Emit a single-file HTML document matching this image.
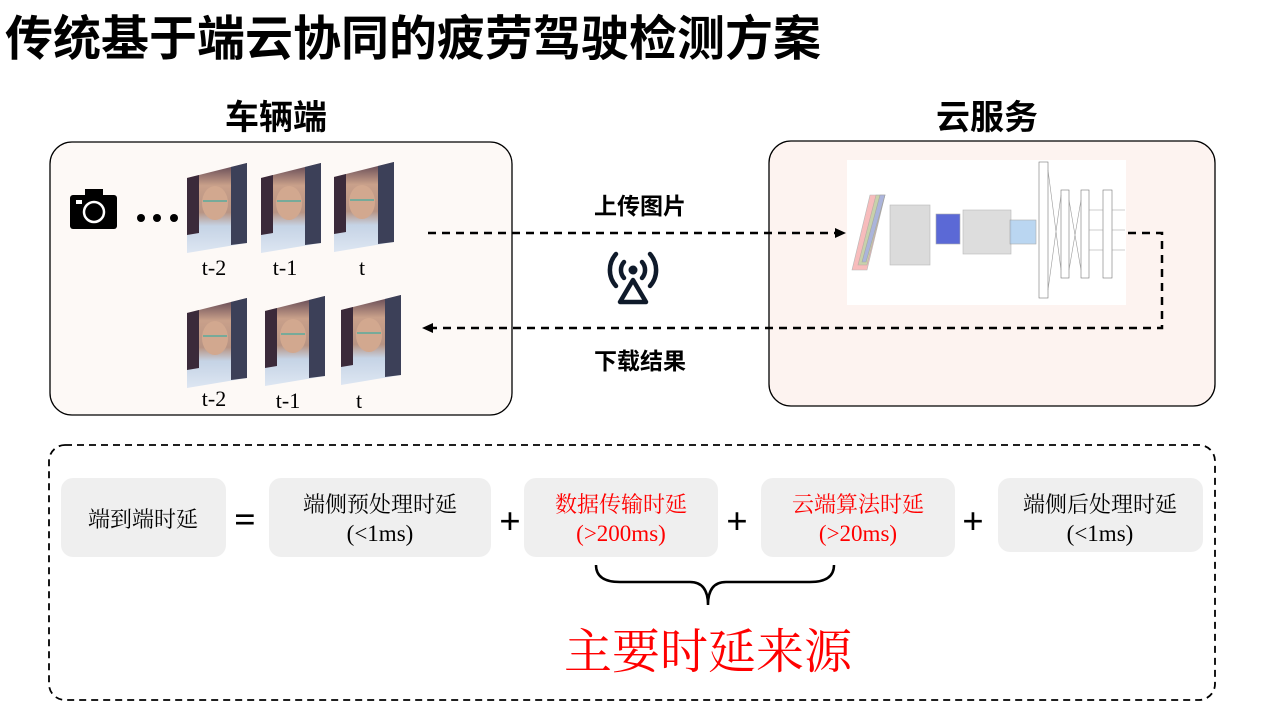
<!DOCTYPE html>
<html><head><meta charset="utf-8"><style>
html,body{margin:0;padding:0;background:#fff;width:1280px;height:720px;overflow:hidden}
svg text{font-family:"Liberation Serif","Noto Serif CJK SC",serif}
.b{font-family:"Liberation Sans","Noto Sans CJK SC",sans-serif;font-weight:bold}
</style></head><body>
<svg width="1280" height="720" viewBox="0 0 1280 720" xmlns="http://www.w3.org/2000/svg">
<defs>
<linearGradient id="ph" x1="0" y1="0" x2="0" y2="1">
<stop offset="0" stop-color="#5a4150"/><stop offset="0.25" stop-color="#c9a08a"/><stop offset="0.55" stop-color="#b89484"/><stop offset="0.7" stop-color="#c5d3e5"/><stop offset="1" stop-color="#dde6f2"/></linearGradient>
<g id="photo">
<polygon points="0,15 60,0 60,80 0,90" fill="url(#ph)"/>
<polygon points="0,15 12,12 12,70 0,72" fill="#3b2a3a"/>
<polygon points="44,4 60,0 60,80 44,82" fill="#3c4058"/>
<ellipse cx="28" cy="40" rx="13" ry="17" fill="#d2a88f"/>
<path d="M16 38 h24" stroke="#7a9" stroke-width="2"/>
</g>
<marker id="ah" markerUnits="userSpaceOnUse" markerWidth="12" markerHeight="10" refX="10" refY="5" orient="auto"><path d="M0,0 L11,5 L0,10 z" fill="#000"/></marker>
</defs>
<text x="5" y="55" font-size="48" class="b" fill="#000">传统基于端云协同的疲劳驾驶检测方案</text>
<text x="276" y="129" font-size="34" class="b" text-anchor="middle">车辆端</text>
<text x="987" y="129" font-size="34" class="b" text-anchor="middle">云服务</text>
<rect x="50" y="142" width="462" height="273" rx="22" fill="#fdf9f6" stroke="#000" stroke-width="1.3"/>
<rect x="769" y="141" width="446" height="265" rx="22" fill="#fdf3f0" stroke="#000" stroke-width="1.3"/>
<rect x="70" y="195" width="47" height="34" rx="3" fill="#000"/>
<rect x="85" y="189" width="18" height="8" fill="#000"/>
<circle cx="94" cy="212" r="10" fill="none" stroke="#fff" stroke-width="2.5"/>
<rect x="76" y="200" width="6" height="4" fill="#fff"/>
<circle cx="141" cy="218" r="4" fill="#000"/><circle cx="157" cy="218" r="4" fill="#000"/><circle cx="174" cy="218" r="4" fill="#000"/>
<use href="#photo" x="187" y="163"/><use href="#photo" x="261" y="163"/><use href="#photo" x="334" y="162"/>
<use href="#photo" x="187" y="298"/><use href="#photo" x="265" y="296"/><use href="#photo" x="341" y="295"/>
<g font-size="22" text-anchor="middle">
<text x="214" y="275">t-2</text><text x="285" y="275">t-1</text><text x="362" y="275">t</text>
<text x="214" y="406">t-2</text><text x="288" y="408">t-1</text><text x="359" y="408">t</text>
</g>
<rect x="847" y="160" width="279" height="145" fill="#fff"/>
<g stroke="#999" stroke-width="0.6" fill="none">
<polygon points="852,270 870,195 885,195 867,270" fill="#f4a0a0" opacity="0.7"/>
<polygon points="858,265 876,195 885,195 867,265" fill="#a8e0a0" opacity="0.6"/>
<polygon points="862,262 880,195 885,195 866,262" fill="#a0a8f0" opacity="0.7"/>
<rect x="890" y="205" width="40" height="60" fill="#ccc" opacity="0.7"/>
<rect x="936" y="214" width="24" height="30" fill="#3344cc" opacity="0.8"/>
<rect x="963" y="210" width="48" height="44" fill="#d0d0d0" opacity="0.7"/>
<rect x="1010" y="220" width="26" height="24" fill="#aaccee" opacity="0.8"/>
<rect x="1039" y="162" width="9" height="136" stroke="#777"/>
<rect x="1061" y="190" width="8" height="88" stroke="#777"/>
<rect x="1081" y="190" width="8" height="88" stroke="#777"/>
<rect x="1103" y="190" width="9" height="88" stroke="#777"/>
<path d="M1048,170 L1061,270 M1048,290 L1061,195 M1069,200 L1081,270 M1069,270 L1081,200 M1089,210 H1103 M1089,230 H1103 M1089,250 H1103 M1112,210 H1125 M1112,230 H1125 M1112,250 H1125"/>
</g>
<path d="M428,233 H845" stroke="#000" stroke-width="2.5" stroke-dasharray="8,6" fill="none" marker-end="url(#ah)"/>
<path d="M1128,233 H1162 V328 H423" stroke="#000" stroke-width="2.5" stroke-dasharray="8,6" fill="none" marker-end="url(#ah)"/>
<text x="640" y="214" font-size="23" class="b" text-anchor="middle">上传图片</text>
<text x="640" y="369" font-size="23" class="b" text-anchor="middle">下载结果</text>
<circle cx="633" cy="270" r="4.5" fill="#0f1a2a"/>
<g stroke="#0f1a2a" stroke-width="4.5" fill="none" stroke-linecap="round">
<path d="M624,262 A12,12 0 0 0 624,278"/><path d="M642,262 A12,12 0 0 1 642,278"/>
<path d="M616,254 A24,24 0 0 0 616,286"/><path d="M650,254 A24,24 0 0 1 650,286"/>
<path d="M633,280 L620,302 H646 Z" stroke-linejoin="round"/>
</g>
<rect x="49" y="445" width="1166" height="255" rx="16" fill="none" stroke="#000" stroke-width="1.8" stroke-dasharray="7,5"/>
<g fill="#efefef">
<rect x="61" y="478" width="165" height="79" rx="12"/>
<rect x="269" y="478" width="222" height="79" rx="12"/>
<rect x="524" y="478" width="194" height="79" rx="12"/>
<rect x="761" y="478" width="194" height="79" rx="12"/>
<rect x="998" y="478" width="205" height="74" rx="12"/>
</g>
<g font-size="22" text-anchor="middle">
<text x="143" y="527">端到端时延</text>
<text x="380" y="512">端侧预处理时延</text><text x="380" y="541" font-size="23">(&lt;1ms)</text>
<text x="621" y="512" fill="#ff0000">数据传输时延</text><text x="621" y="541" fill="#ff0000" font-size="23">(&gt;200ms)</text>
<text x="858" y="512" fill="#ff0000">云端算法时延</text><text x="858" y="541" fill="#ff0000" font-size="23">(&gt;20ms)</text>
<text x="1100" y="512">端侧后处理时延</text><text x="1100" y="541" font-size="23">(&lt;1ms)</text>
</g>
<g font-size="38" class="b" text-anchor="middle">
<text x="245" y="532">=</text><text x="510" y="534">+</text><text x="737" y="534">+</text><text x="973" y="534">+</text>
</g>
<path d="M596,565 Q596,582 620,582 H690 Q708,582 708,605 Q708,582 726,582 H810 Q834,582 834,565" stroke="#000" stroke-width="2.5" fill="none"/>
<text x="708" y="668" font-size="48" fill="#ff0000" text-anchor="middle">主要时延来源</text>
</svg>
</body></html>
